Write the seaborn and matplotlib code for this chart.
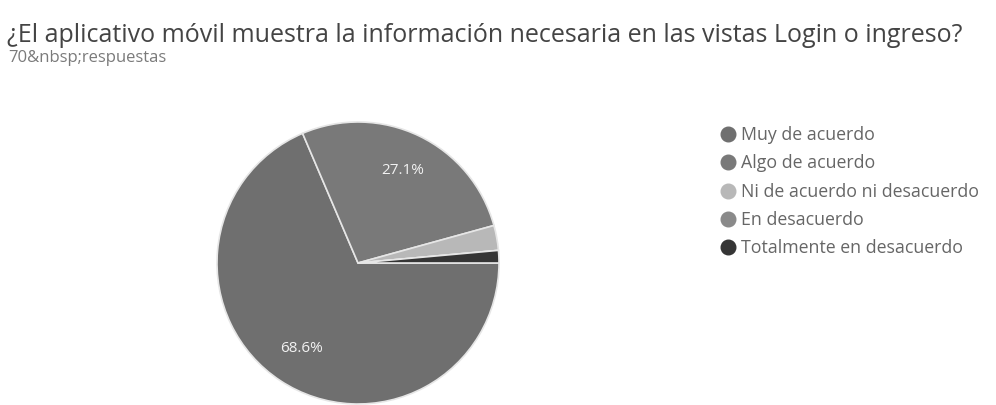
import matplotlib
matplotlib.use("Agg")
import matplotlib.pyplot as plt
from matplotlib.lines import Line2D
import seaborn as sns

# Survey answers (70 responses)
categories = ["Muy de acuerdo", "Algo de acuerdo", "Ni de acuerdo ni desacuerdo",
              "En desacuerdo", "Totalmente en desacuerdo"]
counts = [48, 19, 2, 0, 1]
slice_colors = ["#6f6f6f", "#797979", "#b8b8b8", "#8a8a8a", "#353535"]
title = "¿El aplicativo móvil muestra la información necesaria en las vistas Login o ingreso?"
subtitle = "70&nbsp;respuestas"

sns.set_theme(style="white")
plt.rcParams["font.family"] = ["Open Sans", "DejaVu Sans"]

W, H = 996, 405
fig = plt.figure(figsize=(W / 100, H / 100), dpi=100)
fig.patch.set_facecolor("white")

fig.text(7 / W, 1 - 35 / H, title, fontsize=18, color="#444444", va="center", ha="left")
fig.text(8 / W, 1 - 58 / H, subtitle, fontsize=12, color="#7a7a7a", va="center", ha="left")

# Pie axes: centre (358, 263) px, radius 141 px
cx, cy, r = 358, 263, 141
ax = fig.add_axes([(cx - r) / W, (H - cy - r) / H, 2 * r / W, 2 * r / H])


def pct_label(p):
    return f"{p:.1f}%" if p > 5 else ""


wedges, _, autotexts = ax.pie(
    counts, colors=slice_colors, startangle=0, counterclock=False,
    autopct=pct_label, pctdistance=0.73, radius=1.0,
    wedgeprops=dict(edgecolor="#e6e6e6", linewidth=1.2),
    textprops=dict(color="#f2f2f2", fontsize=11),
)
ax.set_xlim(-1, 1)
ax.set_ylim(-1, 1)
ax.set_aspect("equal")
ax.axis("off")

handles = [Line2D([0], [0], marker="o", linestyle="", markersize=10.5,
                  markerfacecolor=c, markeredgecolor=c) for c in slice_colors]
fig.legend(handles, categories, loc="upper left",
           bbox_to_anchor=(712 / W, 1 - 119 / H), frameon=False,
           fontsize=12.8, labelcolor="#666666", handletextpad=0.25,
           labelspacing=0.58, handlelength=1.0, borderaxespad=0)

fig.savefig("out.png", dpi=100, facecolor="white")
